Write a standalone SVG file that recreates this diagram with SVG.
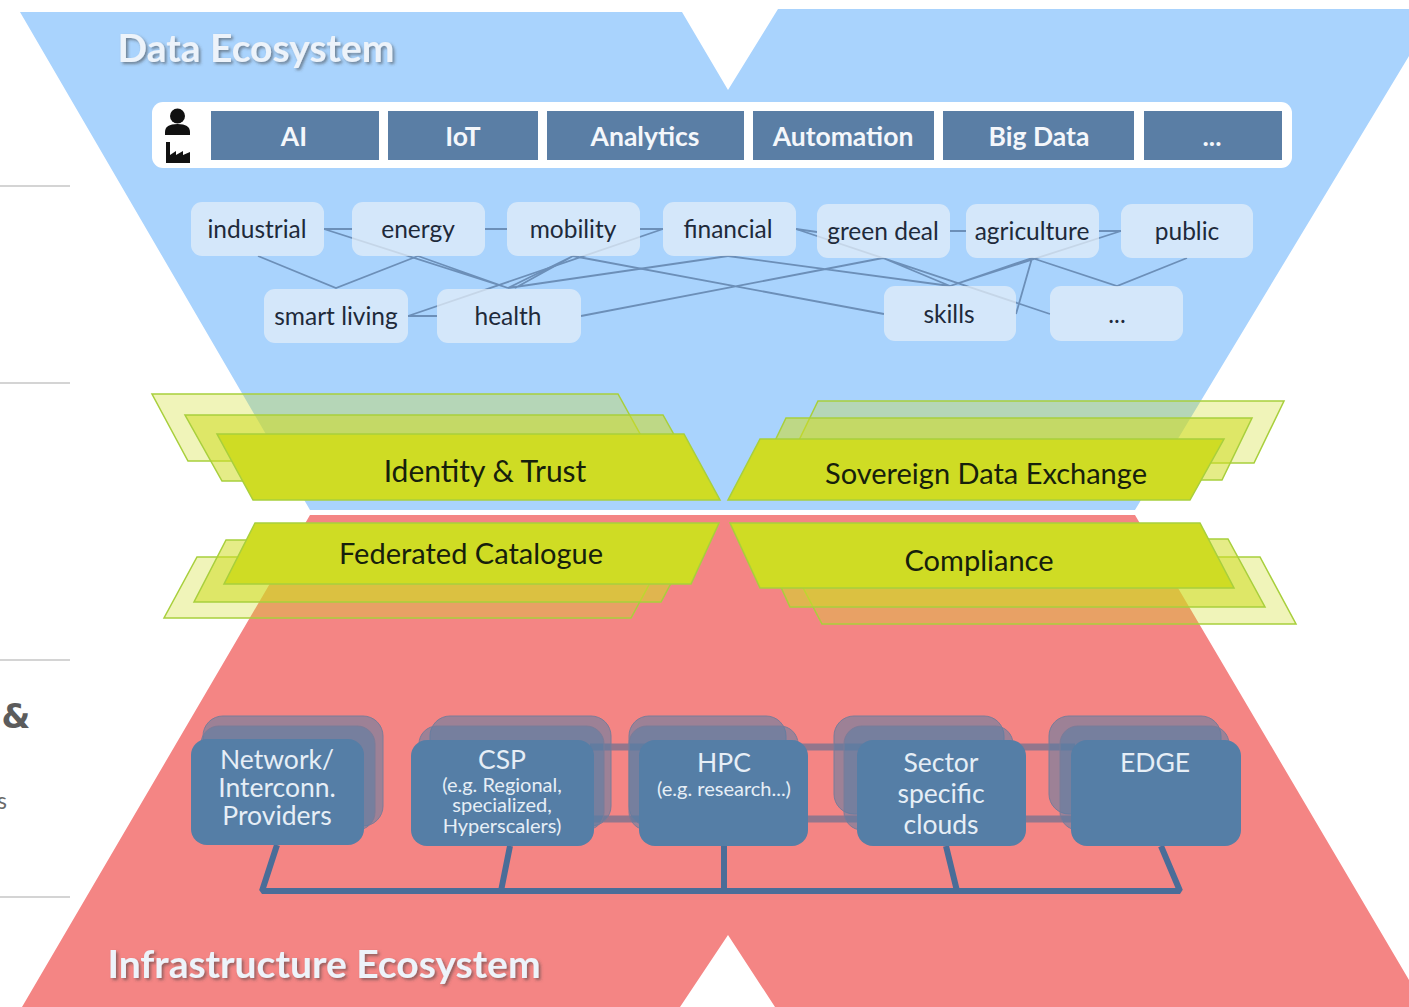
<svg xmlns="http://www.w3.org/2000/svg" width="1409" height="1007" viewBox="0 0 1409 1007">
<style>
text{font-family:Lato,Carlito,"Open Sans",sans-serif;text-anchor:middle}
.title{font-size:39px;font-weight:700;fill:#edf3fa;filter:url(#sh)}
.tile{fill:#5a7ea5}
.tt{font-size:26.5px;font-weight:700;fill:#f4f7fb}
.dom{fill:#e3edf8;fill-opacity:.75;rx:11px}
.dt{font-size:24.5px;fill:#1e2a3a}
.lnk{stroke:#6c8fb8;stroke-width:1.8;fill:none}
.g1{fill:#cfdc24;stroke:#a8cf3c;stroke-width:1.5}
.g2{fill:#cfdc24;fill-opacity:.55;stroke:#a8cf3c;stroke-width:1.5}
.g3{fill:#cfdc24;fill-opacity:.32;stroke:#a8cf3c;stroke-width:1.5}
.gt{font-size:29px;fill:#16200c}
.n1{fill:#557ea6}
.n2{fill:#557ea6;fill-opacity:.55;stroke:#7b7c98;stroke-width:1}
.it{fill:#e6eef6;font-size:26.5px}
.is{fill:#e6eef6;font-size:20px}
.bus{stroke:#4a6d98;stroke-width:6;fill:none;stroke-linejoin:bevel}
.bar{stroke:#93768c;stroke-width:7;fill:none}
.rule{stroke:#c6c6c6;stroke-width:1.5}
</style>
<defs>
<filter id="sh" x="-5%" y="-20%" width="110%" height="150%"><feDropShadow dx="2" dy="2" stdDeviation="1.6" flood-color="#3c3c3c" flood-opacity=".55"/></filter>
</defs>
<rect width="1409" height="1007" fill="#fff"/>
<g id="left-fragments">
<line class="rule" x1="0" y1="186" x2="70" y2="186"/>
<line class="rule" x1="0" y1="383" x2="70" y2="383"/>
<line class="rule" x1="0" y1="660" x2="70" y2="660"/>
<line class="rule" x1="0" y1="897" x2="70" y2="897"/>
<text x="16" y="728" style="font-size:33px;font-weight:700;fill:#5c5c5c;font-family:'DejaVu Sans',sans-serif">&amp;</text>
<text x="2" y="809" style="font-size:23px;fill:#6a6a6a">s</text>
</g>
<g id="data-ecosystem">
<polygon points="20,12 682,12 728,90 778,9 1409,9 1409,56 1135,510 310,510" fill="#a9d3fd"/>
<text class="title" x="256" y="62">Data Ecosystem</text>
</g>
<g id="infrastructure-ecosystem">
<polygon points="310,515 1135,515 1409,980 1409,1007 775,1007 728,935 680,1007 22,1007" fill="#f48584"/>
<text class="title" x="324" y="978">Infrastructure Ecosystem</text>
</g>
<g id="use-case-bar">
<rect x="152" y="102" width="1140" height="66" rx="11" fill="#fff"/>
<g id="actor-icons" fill="#111">
<circle cx="177.500" cy="116" r="7.500"/>
<path d="M165,135v-3q0-8 12.500-8t12.500,8v3z"/>
<path d="M166,142h4v13l6-4v4l7-4v4l7-3v11h-24z"/>
</g>
<g id="tile-ai"><rect class="tile" x="211" y="111" width="168" height="49"/><text class="tt" x="294" y="146">AI</text></g>
<g id="tile-iot"><rect class="tile" x="388" y="111" width="150" height="49"/><text class="tt" x="463" y="146">IoT</text></g>
<g id="tile-analytics"><rect class="tile" x="547" y="111" width="197" height="49"/><text class="tt" x="645" y="146">Analytics</text></g>
<g id="tile-automation"><rect class="tile" x="753" y="111" width="181" height="49"/><text class="tt" x="843" y="146">Automation</text></g>
<g id="tile-bigdata"><rect class="tile" x="943" y="111" width="191" height="49"/><text class="tt" x="1039" y="146">Big Data</text></g>
<g id="tile-more"><rect class="tile" x="1144" y="111" width="138" height="49"/><text class="tt" x="1212" y="146">...</text></g>
</g>
<g id="domain-connectors">
<path class="lnk" d="M258,256L336,288L418,256"/>
<path class="lnk" d="M324,229H352M485,229H507M640,229H663M408,316H437M796,229L817,232M950,231H966M1099,231H1121"/>
<path class="lnk" d="M324,229L508,288M418,256L508,288M573,256L508,288M573,256L515,288M728,256L508,288"/>
<path class="lnk" d="M408,316L663,229M581,316L883,258M573,256L884,314M728,256L950,286M883,258L950,286M796,229L1050,314"/>
<path class="lnk" d="M950,286L1032,258M950,286L1121,231M1032,258L1016,314M1032,258L1117,286L1187,258"/>
</g>
<g id="domain-industrial"><rect class="dom" x="191" y="202" width="133" height="54"/><text class="dt" x="257" y="238">industrial</text></g>
<g id="domain-energy"><rect class="dom" x="352" y="202" width="133" height="54"/><text class="dt" x="418" y="238">energy</text></g>
<g id="domain-mobility"><rect class="dom" x="507" y="202" width="133" height="54"/><text class="dt" x="573" y="238">mobility</text></g>
<g id="domain-financial"><rect class="dom" x="663" y="202" width="133" height="54"/><text class="dt" x="728" y="238">financial</text></g>
<g id="domain-green-deal"><rect class="dom" x="817" y="204" width="133" height="54"/><text class="dt" x="883" y="240">green deal</text></g>
<g id="domain-agriculture"><rect class="dom" x="966" y="204" width="133" height="54"/><text class="dt" x="1032" y="240">agriculture</text></g>
<g id="domain-public"><rect class="dom" x="1121" y="204" width="132" height="54"/><text class="dt" x="1187" y="240">public</text></g>
<g id="domain-smart-living"><rect class="dom" x="264" y="289" width="144" height="54"/><text class="dt" x="336" y="325">smart living</text></g>
<g id="domain-health"><rect class="dom" x="437" y="289" width="144" height="54"/><text class="dt" x="508" y="325">health</text></g>
<g id="domain-skills"><rect class="dom" x="884" y="286" width="132" height="55"/><text class="dt" x="949" y="323">skills</text></g>
<g id="domain-more"><rect class="dom" x="1050" y="286" width="133" height="55"/><text class="dt" x="1117" y="323">...</text></g>
<g id="identity-trust">
<polygon class="g3" points="152,394 618,394 655,461 188,461"/>
<polygon class="g2" points="185,415 663,415 700,481 222,481"/>
<polygon class="g1" points="217,434 684,434 720,500 253,500"/>
<text class="gt" x="485" y="482" style="font-size:30px">Identity &amp; Trust</text>
</g>
<g id="sovereign-data-exchange">
<polygon class="g3" points="818,401 1284,401 1254,463 788,463"/>
<polygon class="g2" points="786,418 1252,418 1222,480 756,480"/>
<polygon class="g1" points="760,439 1224,439 1190,500 728,500"/>
<text class="gt" x="986" y="484">Sovereign Data Exchange</text>
</g>
<g id="federated-catalogue">
<polygon class="g3" points="197,557 664,557 631,618 164,618"/>
<polygon class="g2" points="226,540 694,540 661,602 194,602"/>
<polygon class="g1" points="255,523 719,523 691,584 224,584"/>
<text class="gt" x="471" y="564">Federated Catalogue</text>
</g>
<g id="compliance">
<polygon class="g3" points="787,557 1260,557 1296,624 822,624"/>
<polygon class="g2" points="759,539 1228,539 1265,607 790,607"/>
<polygon class="g1" points="730,523 1200,523 1234,588 760,588"/>
<text class="gt" x="979" y="571">Compliance</text>
</g>
<g id="infra-connectors">
<path class="bar" d="M590,747H1075M590,819H1075"/>
<path class="bus" d="M277,845L262,891H1180L1161,846M510,846L501,891M724,846V891M946,846L957,891"/>
</g>
<g id="node-network">
<rect class="n2" x="203" y="716" width="180" height="110" rx="20"/>
<rect class="n2" x="201" y="726" width="174" height="104" rx="18"/>
<rect class="n1" x="191" y="739" width="173" height="106" rx="16"/>
<text class="it" x="277" y="769">Network/</text><text class="it" x="277" y="797">Interconn.</text><text class="it" x="277" y="825">Providers</text>
</g>
<g id="node-csp">
<rect class="n2" x="430" y="716" width="181" height="110" rx="20"/>
<rect class="n2" x="419" y="726" width="185" height="104" rx="18"/>
<rect class="n1" x="411" y="740" width="183" height="106" rx="16"/>
<text class="it" x="502" y="769">CSP</text><text class="is" x="502" y="792">(e.g. Regional,</text><text class="is" x="502" y="812">specialized,</text><text class="is" x="502" y="833">Hyperscalers)</text>
</g>
<g id="node-hpc">
<rect class="n2" x="629" y="716" width="157" height="110" rx="20"/>
<rect class="n2" x="629" y="726" width="169" height="104" rx="18"/>
<rect class="n1" x="639" y="740" width="169" height="106" rx="16"/>
<text class="it" x="724" y="772">HPC</text><text class="is" x="724" y="796">(e.g. research...)</text>
</g>
<g id="node-sector">
<rect class="n2" x="834" y="716" width="170" height="98" rx="20"/>
<rect class="n2" x="844" y="726" width="169" height="104" rx="18"/>
<rect class="n1" x="857" y="740" width="169" height="106" rx="16"/>
<text class="it" x="941" y="772">Sector</text><text class="it" x="941" y="803">specific</text><text class="it" x="941" y="834">clouds</text>
</g>
<g id="node-edge">
<rect class="n2" x="1049" y="716" width="172" height="98" rx="20"/>
<rect class="n2" x="1060" y="726" width="169" height="104" rx="18"/>
<rect class="n1" x="1071" y="740" width="170" height="106" rx="16"/>
<text class="it" x="1155" y="772">EDGE</text>
</g>
</svg>
